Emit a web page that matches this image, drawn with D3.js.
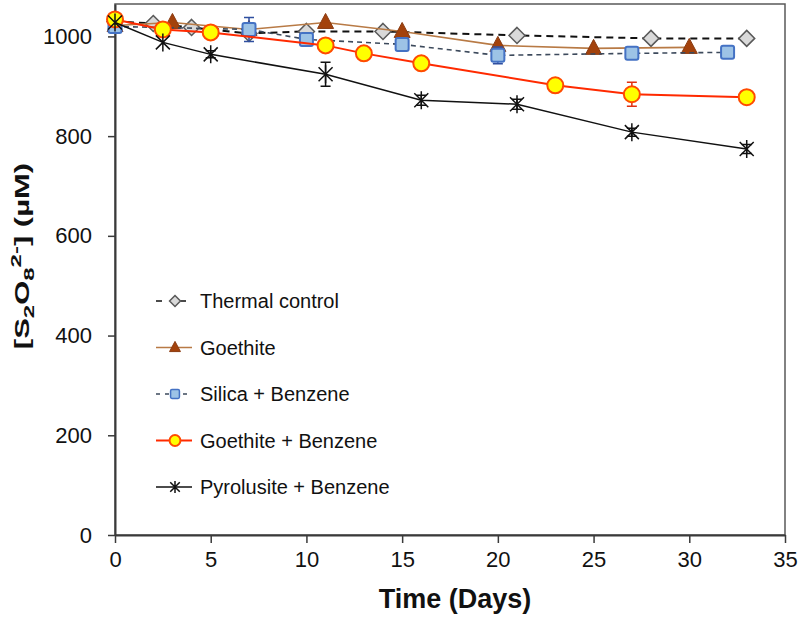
<!DOCTYPE html>
<html>
<head>
<meta charset="utf-8">
<script src="https://cdn.jsdelivr.net/npm/d3@7"></script>
<style>
  html, body { margin: 0; padding: 0; background: #fff; }
  svg { display: block; font-family: "Liberation Sans", Arial, sans-serif; }
</style>
</head>
<body>
<svg id="chart" width="800" height="618"></svg>
<script>
// x ticks / y ticks
const xTicks = [0, 5, 10, 15, 20, 25, 30, 35];
const yTicks = [0, 200, 400, 600, 800, 1000];

// Thermal control
const thermalDays = [0, 2, 4, 7, 10, 14, 21, 28, 33];
const thermalVals = [1030, 1026, 1018, 1006, 1010, 1010, 1002, 996, 996];
const thermalErr = [0, 0, 0, 0, 0, 0, 0, 0, 0];

// Goethite
const goethiteDays = [0, 3, 7, 11, 15, 20, 25, 30];
const goethiteVals = [1022, 1028, 1014, 1028, 1010, 982, 976, 978];
const goethiteErr = [0, 0, 0, 0, 0, 0, 0, 0];

// Silica + Benzene
const silicaDays = [0, 7, 10, 15, 20, 27, 32];
const silicaVals = [1020, 1014, 994, 984, 962, 966, 968];
const silicaErr = [0, 24, 0, 0, 17, 0, 0];

// Goethite + Benzene
const gbDays = [0, 2.5, 5, 11, 13, 16, 23, 27, 33];
const gbVals = [1034, 1014, 1008, 982, 966, 946, 902, 884, 878];
const gbErr = [0, 0, 0, 0, 0, 0, 0, 24, 9];

// Pyrolusite + Benzene
const pyroDays = [0, 2.5, 5, 11, 16, 21, 27, 33];
const pyroVals = [1028, 988, 964, 924, 872, 864, 808, 774];
const pyroErr = [0, 0, 7, 24, 10, 10, 8, 9];

const svg = d3.select('#chart');

const plotLeft = 115, plotRight = 785, plotTop = 4, plotBottom = 535;

const x = d3.scaleLinear().domain([0, 35]).range([plotLeft, plotRight]);
const y = d3.scaleLinear().domain([0, 1065]).range([plotBottom, plotTop]);

// plot frame
svg.append('rect')
  .attr('x', plotLeft)
  .attr('y', plotTop)
  .attr('width', plotRight - plotLeft)
  .attr('height', plotBottom - plotTop)
  .attr('fill', 'none')
  .attr('stroke', '#595959')
  .attr('stroke-width', 1.5);

// axes
const xAxis = svg.append('g')
  .attr('transform', `translate(0,${plotBottom})`)
  .call(d3.axisBottom(x).tickValues(xTicks).tickFormat(d3.format('d'))
    .tickSize(8).tickPadding(8).tickSizeOuter(0));
const yAxis = svg.append('g')
  .attr('transform', `translate(${plotLeft},0)`)
  .call(d3.axisLeft(y).tickValues(yTicks).tickFormat(d3.format('d'))
    .tickSize(7).tickPadding(16).tickSizeOuter(0));

[xAxis, yAxis].forEach(ax => {
  ax.select('.domain').attr('stroke', '#3a3a3a').attr('stroke-width', 2);
  ax.selectAll('.tick line').attr('stroke', '#3a3a3a').attr('stroke-width', 1.5);
  ax.selectAll('.tick text')
    .attr('fill', '#111')
    .attr('font-size', 22)
    .attr('font-family', '"Liberation Sans", Arial, sans-serif');
});

// axis titles
svg.append('text')
  .attr('x', 455)
  .attr('y', 608)
  .attr('text-anchor', 'middle')
  .attr('font-size', 27)
  .attr('font-weight', 'bold')
  .attr('fill', '#111')
  .text('Time (Days)');

const yTitle = svg.append('text')
  .attr('transform', 'translate(29,256) scale(0.64,1) rotate(-90)')
  .attr('text-anchor', 'middle')
  .attr('font-size', 31)
  .attr('font-weight', 'bold')
  .attr('fill', '#111');
yTitle.append('tspan').text('[S');
yTitle.append('tspan').attr('font-size', 24).attr('dy', 8).text('2');
yTitle.append('tspan').attr('dy', -8).text('O');
yTitle.append('tspan').attr('font-size', 24).attr('dy', 8).text('8');
yTitle.append('tspan').attr('font-size', 24).attr('dy', -21).text('2-');
yTitle.append('tspan').attr('dy', 13).text('] (µM)');

// marker drawing
function drawMarker(g, kind, cx, cy, k = 1) {
  if (kind === 'diamond') {
    const r = 8 * k;
    g.append('path')
      .attr('d', `M${cx},${cy - r}L${cx + r},${cy}L${cx},${cy + r}L${cx - r},${cy}Z`)
      .attr('fill', '#d9d9d9')
      .attr('stroke', '#595959')
      .attr('stroke-width', 1.5);
  } else if (kind === 'triangle') {
    g.append('path')
      .attr('d', `M${cx},${cy - 9 * k}L${cx + 8 * k},${cy + 6 * k}L${cx - 8 * k},${cy + 6 * k}Z`)
      .attr('fill', '#a3420c')
      .attr('stroke', '#8a3a10')
      .attr('stroke-width', 1);
  } else if (kind === 'square') {
    const h = 6.5 * k;
    g.append('rect')
      .attr('x', cx - h)
      .attr('y', cy - h)
      .attr('width', 2 * h)
      .attr('height', 2 * h)
      .attr('rx', 2 * k)
      .attr('fill', '#9dc3e6')
      .attr('stroke', '#4472c4')
      .attr('stroke-width', 2 * Math.max(k, 0.75));
  } else if (kind === 'circle') {
    g.append('circle')
      .attr('cx', cx)
      .attr('cy', cy)
      .attr('r', 8 * k)
      .attr('fill', '#ffff00')
      .attr('stroke', '#ff4b00')
      .attr('stroke-width', 2);
  } else if (kind === 'star') {
    const s = 9 * k, d = 7 * k;
    g.append('path')
      .attr('d', `M${cx},${cy - s}L${cx},${cy + s}M${cx - d},${cy - d}L${cx + d},${cy + d}M${cx + d},${cy - d}L${cx - d},${cy + d}`)
      .attr('stroke', '#111')
      .attr('stroke-width', 1.5)
      .attr('fill', 'none');
  }
}

const series = [
  { name: 'Thermal control', days: thermalDays, vals: thermalVals, err: thermalErr,
    line: '#111', width: 2, dash: '7,5', legendDash: '6,18', marker: 'diamond', errColor: '#595959' },
  { name: 'Goethite', days: goethiteDays, vals: goethiteVals, err: goethiteErr,
    line: '#b87a45', width: 1.6, dash: null, marker: 'triangle', errColor: '#b87a45' },
  { name: 'Silica + Benzene', days: silicaDays, vals: silicaVals, err: silicaErr,
    line: '#3d4a5c', width: 1.6, dash: '5,4', legendDash: '4,5', marker: 'square', errColor: '#2f4fa0' },
  { name: 'Goethite + Benzene', days: gbDays, vals: gbVals, err: gbErr,
    line: '#ff2a00', width: 2, dash: null, marker: 'circle', errColor: '#e03010' },
  { name: 'Pyrolusite + Benzene', days: pyroDays, vals: pyroVals, err: pyroErr,
    line: '#111', width: 1.5, dash: null, marker: 'star', errColor: '#111' }
];

const lineGen = d3.line().x(d => x(d[0])).y(d => y(d[1]));

series.forEach(s => {
  const pts = s.days.map((d, i) => [d, s.vals[i], s.err[i]]);
  const g = svg.append('g');
  g.append('path')
    .datum(pts)
    .attr('d', lineGen)
    .attr('fill', 'none')
    .attr('stroke', s.line)
    .attr('stroke-width', s.width)
    .attr('stroke-dasharray', s.dash);
  // error bars
  pts.filter(p => p[2] > 0).forEach(p => {
    const cx = x(p[0]), y1 = y(p[1] + p[2]), y2 = y(p[1] - p[2]);
    g.append('path')
      .attr('d', `M${cx},${y1}L${cx},${y2}M${cx - 5},${y1}L${cx + 5},${y1}M${cx - 5},${y2}L${cx + 5},${y2}`)
      .attr('stroke', s.errColor)
      .attr('stroke-width', 1.5)
      .attr('fill', 'none');
  });
  pts.forEach(p => drawMarker(g, s.marker, x(p[0]), y(p[1])));
});

// legend
const legend = svg.append('g');
series.forEach((s, i) => {
  const ly = 301 + i * 46.5;
  const lg = legend.append('g');
  lg.append('line')
    .attr('x1', 156).attr('x2', 192)
    .attr('y1', ly).attr('y2', ly)
    .attr('stroke', s.line)
    .attr('stroke-width', s.dash ? 1.5 : s.width)
    .attr('stroke-dasharray', s.legendDash || null);
  drawMarker(lg, s.marker, 175, ly, 0.68);
  lg.append('text')
    .attr('x', 200)
    .attr('y', ly + 7)
    .attr('font-size', 20)
    .attr('fill', '#111')
    .text(s.name);
});
</script>
</body>
</html>
